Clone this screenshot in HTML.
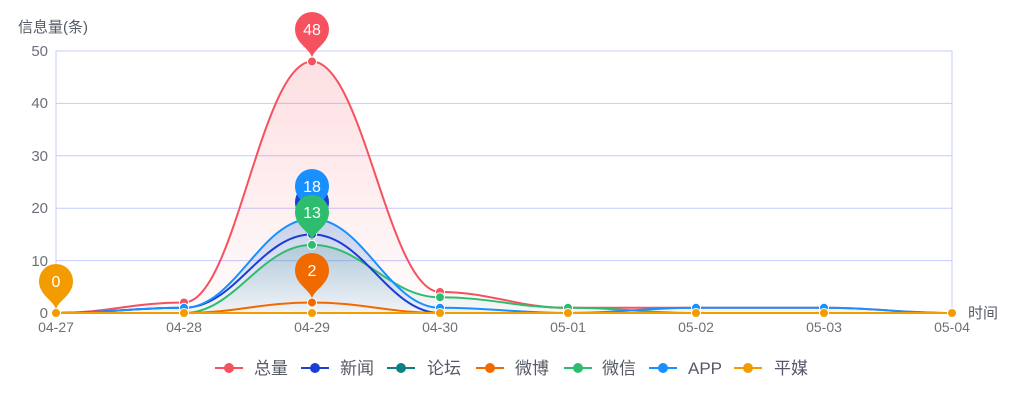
<!DOCTYPE html>
<html><head><meta charset="utf-8"><style>
body{margin:0;background:#fff;}
svg{display:block;font-family:"Liberation Sans","Noto Sans CJK SC",sans-serif;}
</style></head><body>
<svg width="1024" height="414" viewBox="0 0 1024 414">
<defs>
<linearGradient id="gr" x1="0" y1="0" x2="0" y2="1"><stop offset="0" stop-color="#f5515f" stop-opacity="0.18"/><stop offset="1" stop-color="#f5515f" stop-opacity="0.02"/></linearGradient>
<linearGradient id="gb" x1="0" y1="0" x2="0" y2="1"><stop offset="0" stop-color="#1e6fd9" stop-opacity="0.25"/><stop offset="1" stop-color="#1e6fd9" stop-opacity="0.03"/></linearGradient>
<linearGradient id="gg" x1="0" y1="0" x2="0" y2="1"><stop offset="0" stop-color="#2a8a8a" stop-opacity="0.2"/><stop offset="1" stop-color="#2a8a8a" stop-opacity="0.03"/></linearGradient>
<path id="pin" d="M0,0 C-4,-10 -17,-14 -17,-28 A17,17 0 1 1 17,-28 C17,-14 4,-10 0,0Z"/>
</defs>
<g stroke="#c4ccff" stroke-width="1">
<line x1="56" y1="260.6" x2="952" y2="260.6"/><line x1="56" y1="208.2" x2="952" y2="208.2"/><line x1="56" y1="155.8" x2="952" y2="155.8"/><line x1="56" y1="103.4" x2="952" y2="103.4"/>
<rect x="56" y="51" width="896" height="262" fill="none"/>
</g>
<g fill="#6e7079" font-size="15" text-anchor="end">
<text x="48" y="318">0</text><text x="48" y="266">10</text><text x="48" y="213">20</text><text x="48" y="161">30</text><text x="48" y="108">40</text><text x="48" y="56">50</text>
</g>
<text x="18" y="32" fill="#555a66" font-size="15">信息量(条)</text>
<text x="968" y="318" fill="#555a66" font-size="15">时间</text>
<g fill="#6e7079" font-size="14" text-anchor="middle">
<text x="56" y="332">04-27</text><text x="184" y="332">04-28</text><text x="312" y="332">04-29</text><text x="440" y="332">04-30</text><text x="568" y="332">05-01</text><text x="696" y="332">05-02</text><text x="824" y="332">05-03</text><text x="952" y="332">05-04</text>
</g>
<path d="M56 313 C107 313 133 302.5 184 302.5 S261 61.5 312 61.5 S389 292 440 292 S517 307.8 568 307.8 S645 307.8 696 307.8 S773 307.8 824 307.8 S901 313 952 313 Z" fill="url(#gr)"/>
<path d="M56 313 C107 313 133 307.8 184 307.8 S261 218.7 312 218.7 S389 307.8 440 307.8 S517 313 568 313 S645 307.8 696 307.8 S773 307.8 824 307.8 S901 313 952 313 Z" fill="url(#gb)"/>
<path d="M56 313 C107 313 133 313 184 313 S261 244.9 312 244.9 S389 297.3 440 297.3 S517 307.8 568 307.8 S645 313 696 313 S773 313 824 313 S901 313 952 313 Z" fill="url(#gg)"/>
<g fill="none" stroke-width="2">
<path d="M56 313 C107 313 133 302.5 184 302.5 S261 61.5 312 61.5 S389 292 440 292 S517 307.8 568 307.8 S645 307.8 696 307.8 S773 307.8 824 307.8 S901 313 952 313" stroke="#f5515f"/>
<path d="M56 313 C107 313 133 313 184 313 S261 244.9 312 244.9 S389 297.3 440 297.3 S517 307.8 568 307.8 S645 313 696 313 S773 313 824 313 S901 313 952 313" stroke="#2ebd6e"/>
<path d="M56 313 C107 313 133 307.8 184 307.8 S261 234.4 312 234.4 S389 313 440 313 S517 313 568 313 S645 313 696 313 S773 313 824 313 S901 313 952 313" stroke="#1a3ed6"/>
<path d="M56 313 C107 313 133 307.8 184 307.8 S261 218.7 312 218.7 S389 307.8 440 307.8 S517 313 568 313 S645 307.8 696 307.8 S773 307.8 824 307.8 S901 313 952 313" stroke="#1890ff"/>
<path d="M56 313 C107 313 133 313 184 313 S261 302.5 312 302.5 S389 313 440 313 L952 313" stroke="#f06a00"/>
<path d="M56 313 L952 313" stroke="#f29c00"/>
</g>
<g stroke="#fff" stroke-width="1">
<circle cx="184" cy="302.5" r="4.5" fill="#f5515f"/><circle cx="312" cy="61.5" r="4.5" fill="#f5515f"/><circle cx="440" cy="292" r="4.5" fill="#f5515f"/>
<circle cx="184" cy="307.8" r="4.5" fill="#1890ff"/><circle cx="312" cy="234.4" r="4.5" fill="#1a3ed6"/><circle cx="312" cy="218.7" r="4.5" fill="#1890ff"/>
<circle cx="440" cy="307.8" r="4.5" fill="#1890ff"/><circle cx="696" cy="307.8" r="4.5" fill="#1890ff"/><circle cx="824" cy="307.8" r="4.5" fill="#1890ff"/>
<circle cx="312" cy="244.9" r="4.5" fill="#2ebd6e"/><circle cx="440" cy="297.3" r="4.5" fill="#2ebd6e"/><circle cx="568" cy="307.8" r="4.5" fill="#2ebd6e"/>
<circle cx="312" cy="302.5" r="4.5" fill="#f06a00"/>
<circle cx="56" cy="313" r="4.5" fill="#f29c00"/><circle cx="184" cy="313" r="4.5" fill="#f29c00"/><circle cx="312" cy="313" r="4.5" fill="#f29c00"/><circle cx="440" cy="313" r="4.5" fill="#f29c00"/><circle cx="568" cy="313" r="4.5" fill="#f29c00"/><circle cx="696" cy="313" r="4.5" fill="#f29c00"/><circle cx="824" cy="313" r="4.5" fill="#f29c00"/><circle cx="952" cy="313" r="4.5" fill="#f29c00"/>
</g>
<g font-size="16" fill="#fff" text-anchor="middle">
<use href="#pin" transform="translate(312,57)" fill="#f5515f"/><text x="312" y="35">48</text>
<use href="#pin" transform="translate(312,230)" fill="#1a3ed6"/>
<use href="#pin" transform="translate(312,214)" fill="#1890ff"/><text x="312" y="192">18</text>
<use href="#pin" transform="translate(312,240)" fill="#2ebd6e"/><text x="312" y="218">13</text>
<use href="#pin" transform="translate(312,298)" fill="#f06a00"/><text x="312" y="276">2</text>
<use href="#pin" transform="translate(56,309)" fill="#f29c00"/><text x="56" y="287">0</text>
</g>
<g font-size="17" fill="#555a66">
<line x1="215" y1="368" x2="243" y2="368" stroke="#f5515f" stroke-width="2"/><circle cx="229" cy="368" r="5" fill="#f5515f"/><text x="254" y="374">总量</text>
<line x1="301" y1="368" x2="329" y2="368" stroke="#1a3ed6" stroke-width="2"/><circle cx="315" cy="368" r="5" fill="#1a3ed6"/><text x="340" y="374">新闻</text>
<line x1="387" y1="368" x2="415" y2="368" stroke="#0e8080" stroke-width="2"/><circle cx="401" cy="368" r="5" fill="#0e8080"/><text x="427" y="374">论坛</text>
<line x1="476" y1="368" x2="504" y2="368" stroke="#f06a00" stroke-width="2"/><circle cx="490" cy="368" r="5" fill="#f06a00"/><text x="515" y="374">微博</text>
<line x1="564" y1="368" x2="592" y2="368" stroke="#2ebd6e" stroke-width="2"/><circle cx="578" cy="368" r="5" fill="#2ebd6e"/><text x="602" y="374">微信</text>
<line x1="649" y1="368" x2="677" y2="368" stroke="#1890ff" stroke-width="2"/><circle cx="663" cy="368" r="5" fill="#1890ff"/><text x="688" y="374">APP</text>
<line x1="734" y1="368" x2="762" y2="368" stroke="#f29c00" stroke-width="2"/><circle cx="748" cy="368" r="5" fill="#f29c00"/><text x="774" y="374">平媒</text>
</g>
</svg>
</body></html>
